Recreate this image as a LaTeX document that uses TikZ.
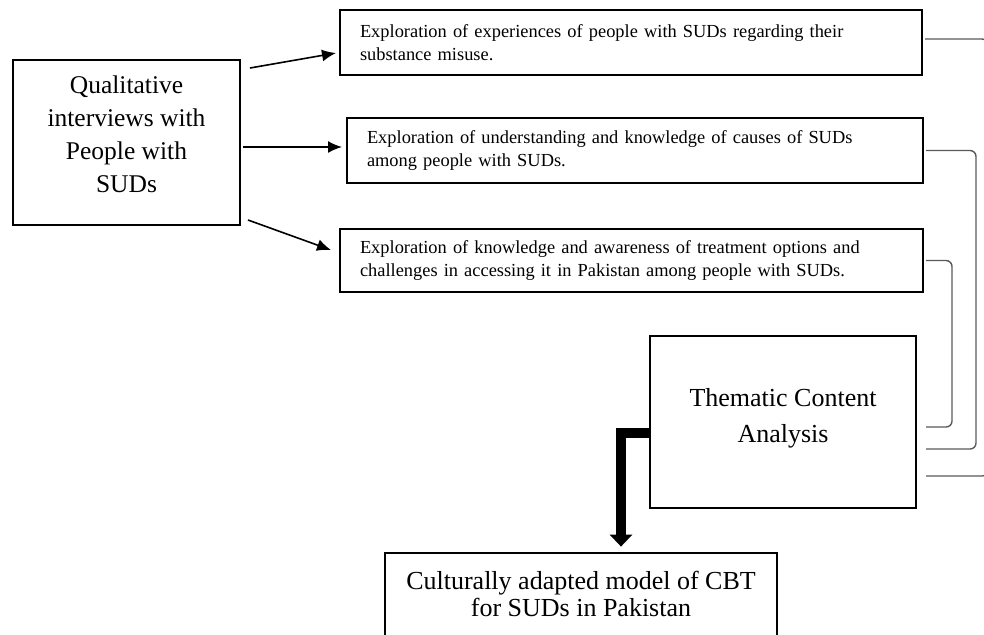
\documentclass[tikz,border=0pt]{standalone}
\usepackage{fontspec}
\setmainfont{Liberation Serif}
\usetikzlibrary{arrows.meta, positioning}

\begin{document}
\begin{tikzpicture}[x=0.5pt, y=-0.5pt,
    box/.style={draw, line width=1pt, align=center, inner sep=0pt},
    smallbox/.style={draw, line width=1pt, align=left, inner xsep=10pt, inner ysep=0pt,
        font=\fontsize{9.2}{11.5}\selectfont},
    arr/.style={-{Latex[length=7pt,width=6pt]}, line width=0.8pt},
    link/.style={draw=black!65, line width=0.7pt, rounded corners=3pt},
    bigarrow/.style={line width=5pt, -{Triangle[length=6pt,width=11pt]}}]

    \useasboundingbox (0,0) rectangle (984,634);

    % Source of the data
    \node[box, minimum width=113.5pt, minimum height=82.5pt, text depth=8pt,
        font=\fontsize{12.75}{16.5}\selectfont] (quali) at (126.5,142.5)
        {Qualitative\\interviews with\\People with\\SUDs};

    % The three explorations
    \node[smallbox, minimum width=291pt, minimum height=32.5pt, text width=271pt] (exp1) at (631,42.5)
        {Exploration of experiences of people with SUDs regarding their\\substance misuse.};
    \node[smallbox, minimum width=288pt, minimum height=32.5pt, text width=268pt] (exp2) at (635,150.5)
        {Exploration of understanding and knowledge of causes of SUDs\\among people with SUDs.};
    \node[smallbox, minimum width=291.5pt, minimum height=31.5pt, text width=271.5pt] (exp3) at (631.5,260.5)
        {Exploration of knowledge and awareness of treatment options and\\challenges in accessing it in Pakistan among people with SUDs.};

    % Analysis and outcome
    \node[box, minimum width=133pt, minimum height=86pt, text depth=6.2pt,
        font=\fontsize{13}{18}\selectfont] (thematic) at (783,422)
        {Thematic Content\\Analysis};
    \node[align=center, inner sep=0pt, minimum width=196pt, minimum height=41pt,
        font=\fontsize{13}{13.5}\selectfont] (model) at (581,594)
        {Culturally adapted model of CBT\\for SUDs in Pakistan};
    \draw[line width=1pt] (model.north west) rectangle ([yshift=-30pt]model.south east);

    % Arrows to the explorations
    \draw[arr] ([xshift=4.5pt,yshift=-4.5pt]quali.north east) -- ([xshift=-1.5pt,yshift=-5.25pt]exp1.west);
    \draw[arr] ([xshift=1pt,yshift=-2.25pt]quali.east) -- ([xshift=-2pt,yshift=1.75pt]exp2.west);
    \draw[arr] ([xshift=3.5pt,yshift=3pt]quali.south east) -- ([xshift=-4pt,yshift=5.25pt]exp3.west);

    % Links back to the analysis
    \draw[link] ([xshift=1pt,yshift=1.75pt]exp1.east) -- ++(31.5pt,0) |- ([xshift=4.5pt,yshift=-27pt]thematic.east);
    \draw[link] ([xshift=1pt]exp2.east) -- ++(25pt,0) |- ([xshift=4.5pt,yshift=-13.5pt]thematic.east);
    \draw[link] ([xshift=1pt]exp3.east) -- ++(13pt,0) |- ([xshift=4.5pt,yshift=-2.5pt]thematic.east);

    % Heavy arrow down to the model
    \draw[bigarrow] ([yshift=-5.5pt]thematic.west) -| ([xshift=20pt,yshift=3pt]model.north);
\end{tikzpicture}
\end{document}
